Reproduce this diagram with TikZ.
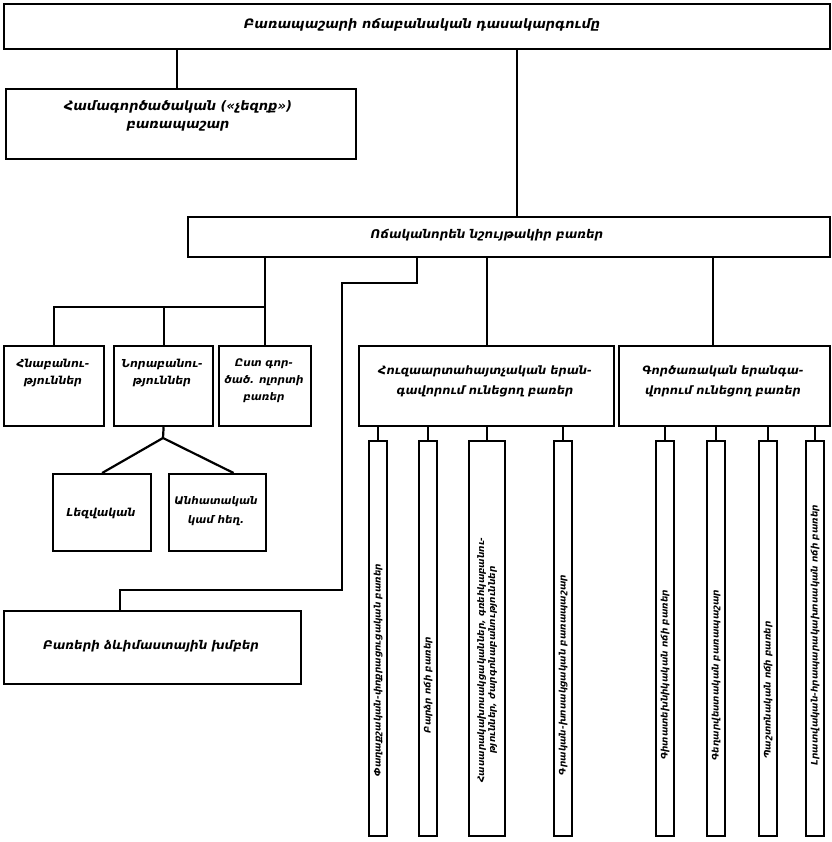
\documentclass[tikz,border=0pt]{standalone}
\usepackage{fontspec}
\newfontfamily\armf{DejaVu Sans}
\begin{document}
\begin{tikzpicture}[x=1pt,y=-1pt,
  box/.style={draw, line width=2.2pt, inner sep=0pt, anchor=north west},
  conn/.style={line width=2.2pt},
  txt/.style={font=\armf\bfseries\itshape\fontsize{12}{17}\selectfont, align=center, inner sep=0pt},
  stxt/.style={font=\armf\bfseries\itshape\fontsize{11}{17}\selectfont, align=center, inner sep=0pt},
  vtxt/.style={font=\armf\bfseries\itshape\fontsize{9}{11}\selectfont, align=center, inner sep=0pt, rotate=90}]
\useasboundingbox[fill=white] (0,0) rectangle (831,842);
% main boxes
\node[box, minimum width=826, minimum height=45] (top) at (3,3) {};
\node[txt, font=\armf\bfseries\itshape\fontsize{13}{16}\selectfont] (toptxt) at (422,25) {Բառապաշարի ոճաբանական դասակարգումը};
\node[box, minimum width=350, minimum height=70] (left) at (5,88) {};
\node[txt, font=\armf\bfseries\itshape\fontsize{13}{18}\selectfont] (lefttxt) at (178,116) {Համագործածական («չեզոք»)\\բառապաշար};
\node[box, minimum width=642, minimum height=40] (mid) at (187,216) {};
\node[txt] (midtxt) at (487,235) {Ոճականորեն նշույթակիր բառեր};
% small boxes
\node[box, minimum width=100, minimum height=80] (h1) at (3,345) {};
\node[stxt] (h1t) at (53,373) {Հնաբանու-\\թյուններ};
\node[box, minimum width=99, minimum height=80] (h2) at (113,345) {};
\node[stxt] (h2t) at (162,373) {Նորաբանու-\\թյուններ};
\node[box, minimum width=92, minimum height=80] (h3) at (218,345) {};
\node[stxt, font=\armf\bfseries\itshape\fontsize{10.5}{17}\selectfont] (h3t) at (264,381) {Ըստ գոր-\\ծած. ոլորտի\\բառեր};
\node[box, minimum width=98, minimum height=77] (lez) at (52,473) {};
\node[stxt] (lezt) at (101,513) {Լեզվական};
\node[box, minimum width=97, minimum height=77] (anh) at (168,473) {};
\node[stxt, font=\armf\bfseries\itshape\fontsize{10.5}{19}\selectfont] (anht) at (216,511) {Անհատական\\կամ հեղ.};
% right group boxes
\node[box, minimum width=255, minimum height=80] (hz) at (358,345) {};
\node[txt, font=\armf\bfseries\itshape\fontsize{11.5}{20}\selectfont] (hzt) at (485,381) {Հուզաարտահայտչական երան-\\գավորում ունեցող բառեր};
\node[box, minimum width=211, minimum height=80] (gr) at (618,345) {};
\node[txt, font=\armf\bfseries\itshape\fontsize{11.5}{20}\selectfont] (grt) at (723,381) {Գործառական երանգա-\\վորում ունեցող բառեր};
% bottom-left box
\node[box, minimum width=297, minimum height=73] (bl) at (3,610) {};
\node[txt] (blt) at (151,646) {Բառերի ձևիմաստային խմբեր};
% tall boxes
\foreach \n/\x/\w in {A/368/18, B/418/18, C/468/36, D/553/18, E/655/18, F/706/18, G/758/18, H/805/18}
  \node[box, minimum width=\w, minimum height=395] (\n) at (\x,440) {};
\node[vtxt] (At) at (A.center |- 0,670) {Փաղաքշական-փոքրացուցական բառեր};
\node[vtxt] (Bt) at (B.center |- 0,685) {Բարձր ոճի բառեր};
\node[vtxt] (Ct) at (C.center |- 0,660) {Հասարակախոսակցականներ, գռեհկաբանու-\\թյուններ, ժարգոնաբանություններ};
\node[vtxt] (Dt) at (D.center |- 0,675) {Գրական-խոսակցական բառապաշար};
\node[vtxt] (Et) at (E.center |- 0,675) {Գիտատեխնիկական ոճի բառեր};
\node[vtxt] (Ft) at (F.center |- 0,675) {Գեղարվեստական բառապաշար};
\node[vtxt] (Gt) at (G.center |- 0,690) {Պաշտոնական ոճի բառեր};
\node[vtxt] (Ht) at (H.center |- 0,635) {Լրատվական-հրապարակախոսական ոճի բառեր};
% connectors
\coordinate (c0) at (177,0);
\coordinate (c1) at (517,0);
\coordinate (busL) at (0,307);
\coordinate (k1) at (417,0);
\coordinate (k2) at (342,283);
\coordinate (k3) at (120,590);
\coordinate (g1) at (713,0);
\coordinate (apex) at (163,438);
\draw[conn] (top.south -| c0) -- (left.north -| c0);
\draw[conn] (top.south -| c1) -- (mid.north -| c1);
\draw[conn] (h1.north) -- (h1.north |- busL) -- (h3.north |- busL);
\draw[conn] (h2.north) -- (h2.north |- busL);
\draw[conn] (mid.south -| h3.north) -- (h3.north);
\draw[conn, line join=round] (h2.south) -- (apex) -- (lez.north);
\draw[conn] (apex) -- ([xshift=16pt]anh.north);
\draw[conn] (mid.south -| k1) |- (k2) |- (k3) -- (bl.north -| k3);
\draw[conn] (mid.south -| hz.north) -- (hz.north);
\draw[conn] (mid.south -| g1) -- (gr.north -| g1);
\foreach \n in {A,B,C,D}
  \draw[conn] (hz.south -| \n.north) -- (\n.north);
\foreach \n in {E,F,G,H}
  \draw[conn] (gr.south -| \n.north) -- (\n.north);
\end{tikzpicture}
\end{document}
